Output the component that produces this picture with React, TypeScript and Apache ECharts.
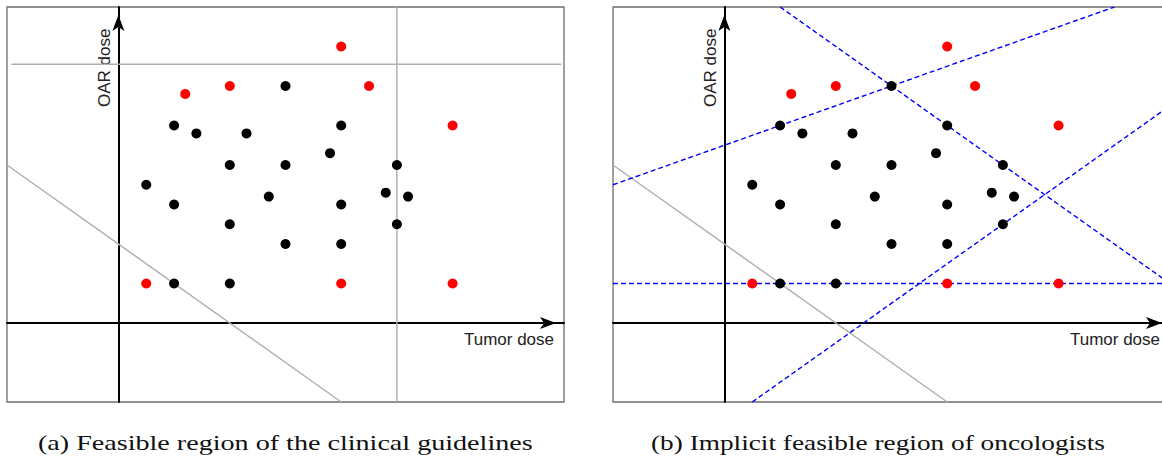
import React, { useEffect, useRef } from "react";
import * as echarts from "echarts";

// ---- data (in plot units) ----
const AXIS_MIN = -2;
const AXIS_MAX = 8;

const redPoints: [number, number][] = [
  [4, 7], [1.2, 5.8], [2, 6], [4.5, 6], [6, 5], [0.5, 1], [4, 1], [6, 1],
];
const blackPoints: [number, number][] = [
  [3, 6], [1, 5], [1.4, 4.8], [2.3, 4.8], [4, 5], [3.8, 4.3], [2, 4], [3, 4],
  [5, 4], [0.5, 3.5], [2.7, 3.2], [4.8, 3.3], [5.2, 3.2], [1, 3], [4, 3],
  [2, 2.5], [5, 2.5], [3, 2], [4, 2], [1, 1], [2, 1],
];

const guidelineHorizontal: [number, number][] = [[-1.92, 6.55], [7.95, 6.55]];
const guidelineVertical: [number, number][] = [[5, -2], [5, 8]];
const guidelineDiagonal: [number, number][] = [[-2, 4], [4, -2]];

const oncologistLines: [number, number][][] = [
  [[-2, 1], [8, 1]],
  [[-2, 3.5], [7, 8]],
  [[1, 8], [8, 1]],
  [[0.5, -2], [8, 5.5]],
];

const xAxisName = "Tumor dose";
const yAxisName = "OAR dose";
const captionA = "(a) Feasible region of the clinical guidelines";
const captionB = "(b) Implicit feasible region of oncologists";

// ---- layout ----
const PANEL_W = 557;
const PANEL_H = 395;
const PANEL_TOP = 7;
const PANEL_LEFTS = [7, 613];
const CAPTION_FONT = 21;
const CAPTION_FAMILY = '"Liberation Serif", "Times New Roman", serif';

function measure(text: string, font: string): number {
  const c = document.createElement("canvas").getContext("2d");
  if (!c) return text.length * 10;
  c.font = font;
  return c.measureText(text).width;
}

export default function App() {
  const ref = useRef<HTMLDivElement>(null);

  useEffect(() => {
    if (!ref.current) return;
    const chart = echarts.init(ref.current, undefined, { renderer: "svg" });

    const grids = PANEL_LEFTS.map((left) => ({
      left,
      top: PANEL_TOP,
      width: PANEL_W,
      height: PANEL_H,
      show: true,
      borderColor: "#6e6e6e",
      borderWidth: 1.3,
      backgroundColor: "transparent",
      containLabel: false,
      outerBoundsMode: "none",
    }));

    const axisCommon = {
      type: "value" as const,
      min: AXIS_MIN,
      max: AXIS_MAX,
      axisTick: { show: false },
      axisLabel: { show: false },
      splitLine: { show: false },
      axisLine: {
        show: true,
        onZero: true,
        lineStyle: { color: "#000", width: 2 },
        symbol: ["none", "arrow"],
        symbolSize: [9, 16],
        symbolOffset: [0, -8],
      },
    };

    const xAxes = PANEL_LEFTS.map((_, i) => ({ ...axisCommon, gridIndex: i }));
    const yAxes = PANEL_LEFTS.map((_, i) => ({ ...axisCommon, gridIndex: i }));

    const grayLine = (data: [number, number][], i: number) => ({
      type: "line",
      xAxisIndex: i,
      yAxisIndex: i,
      data,
      showSymbol: false,
      symbol: "none",
      silent: true,
      z: 1,
      lineStyle: { color: "#b0b0b0", width: 1.5 },
    });

    const blueLine = (data: [number, number][], i: number) => ({
      type: "line",
      xAxisIndex: i,
      yAxisIndex: i,
      data,
      showSymbol: false,
      symbol: "none",
      silent: true,
      z: 1,
      lineStyle: { color: "#0000ff", width: 1.4, type: [5, 3] },
    });

    const dots = (data: [number, number][], color: string, i: number) => ({
      type: "scatter",
      xAxisIndex: i,
      yAxisIndex: i,
      data,
      symbol: "circle",
      symbolSize: 10,
      silent: true,
      z: 5,
      itemStyle: { color, opacity: 1 },
    });

    const series: any[] = [
      grayLine(guidelineHorizontal, 0),
      grayLine(guidelineVertical, 0),
      grayLine(guidelineDiagonal, 0),
      dots(blackPoints, "#000000", 0),
      dots(redPoints, "#ff0000", 0),
      grayLine(guidelineDiagonal, 1),
      ...oncologistLines.map((l) => blueLine(l, 1)),
      dots(blackPoints, "#000000", 1),
      dots(redPoints, "#ff0000", 1),
    ];

    const sansFont = 17;
    const sansFamily = '"Liberation Sans", Arial, sans-serif';
    const labelEls: any[] = [];
    PANEL_LEFTS.forEach((left) => {
      const dx = left - PANEL_LEFTS[0];
      labelEls.push({
        type: "text",
        x: 554 + dx,
        y: 339,
        silent: true,
        style: {
          text: xAxisName,
          fontSize: sansFont,
          fontFamily: sansFamily,
          fill: "#222",
          align: "right",
          textAlign: "right",
          verticalAlign: "middle",
          textVerticalAlign: "middle",
        },
      });
      labelEls.push({
        type: "text",
        x: 104.5 + dx,
        y: 107,
        rotation: Math.PI / 2,
        silent: true,
        style: {
          text: yAxisName,
          fontSize: sansFont,
          fontFamily: sansFamily,
          fill: "#222",
          align: "left",
          textAlign: "left",
          verticalAlign: "middle",
          textVerticalAlign: "middle",
        },
      });
    });

    const capFont = `${CAPTION_FONT}px ${CAPTION_FAMILY}`;
    const captions = [
      { text: captionA, x: 38, w: 495 },
      { text: captionB, x: 651, w: 454 },
    ];
    captions.forEach((c) => {
      const mw = measure(c.text, capFont);
      labelEls.push({
        type: "text",
        x: c.x,
        y: 443,
        scaleX: mw > 0 ? c.w / mw : 1,
        silent: true,
        style: {
          text: c.text,
          fontSize: CAPTION_FONT,
          fontFamily: CAPTION_FAMILY,
          fill: "#111",
          align: "left",
          textAlign: "left",
          verticalAlign: "middle",
          textVerticalAlign: "middle",
        },
      });
    });

    chart.setOption({
      animation: false,
      backgroundColor: "#ffffff",
      grid: grids,
      xAxis: xAxes,
      yAxis: yAxes,
      series,
      graphic: { elements: labelEls },
    } as any);

    return () => chart.dispose();
  }, []);

  return (
    <div
      style={{
        position: "fixed",
        left: 0,
        top: 0,
        width: 1162,
        height: 457,
        overflow: "hidden",
        background: "#fff",
      }}
    >
      <div ref={ref} style={{ width: 1175, height: 457 }} />
    </div>
  );
}
